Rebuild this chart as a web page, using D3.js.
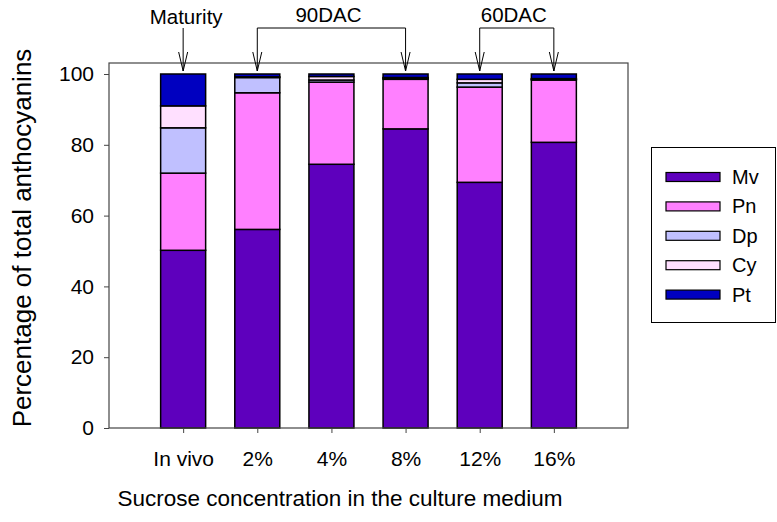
<!DOCTYPE html>
<html>
<head>
<meta charset="utf-8">
<script src="https://cdn.jsdelivr.net/npm/d3@7/dist/d3.min.js"></script>
<style>
  html, body { margin: 0; padding: 0; background: #fff; }
  svg { display: block; font-family: "Liberation Sans", Arial, sans-serif; }
</style>
</head>
<body>
<svg id="chart" width="777" height="522"></svg>
<script>
// Anthocyanin composition (% of total) by sucrose level in the culture medium
const categories = ["In vivo", "2%", "4%", "8%", "12%", "16%"];
const pigments   = ["Mv", "Pn", "Dp", "Cy", "Pt"];
const Mv = [50.2, 56.1, 74.5, 84.5, 69.4, 80.7];
const Pn = [21.8, 38.6, 23.2, 14.0, 26.9, 17.6];
const Dp = [12.8,  4.3,  0.6,  0.3,  1.2,  0.2];
const Cy = [ 6.2,  0.2,  1.0,  0.2,  1.0,  0.2];
const Pt = [ 9.0,  0.8,  0.7,  1.0,  1.5,  1.3];
const yTicks = [0, 20, 40, 60, 80, 100];
const colors = ["#5e00bd", "#ff80ff", "#c0c0ff", "#ffe0ff", "#0000c0"];

// Annotations: label and the categories each arrow points at
const notes = [
  { label: "Maturity", targets: ["In vivo"] },
  { label: "90DAC",    targets: ["2%", "8%"] },
  { label: "60DAC",    targets: ["12%", "16%"] }
];

const table = categories.map((c, i) => ({
  cat: c, Mv: Mv[i], Pn: Pn[i], Dp: Dp[i], Cy: Cy[i], Pt: Pt[i]
}));

const svg = d3.select("#chart");
const plotL = 109, plotR = 628, plotT = 63, plotB = 428;

const x = d3.scalePoint().domain(categories).range([plotL, plotR]).padding(1);
const y = d3.scaleLinear().domain([0, 100]).range([plotB, 74]);
const color = d3.scaleOrdinal().domain(pigments).range(colors);
const barW = 45;

const stacked = d3.stack().keys(pigments)(table);

// stacked bars
svg.append("g").selectAll("g")
  .data(stacked).join("g")
  .attr("fill", d => color(d.key))
  .selectAll("rect")
  .data(d => d).join("rect")
  .attr("x", d => x(d.data.cat) - barW / 2)
  .attr("y", d => y(d[1]))
  .attr("width", barW)
  .attr("height", d => y(d[0]) - y(d[1]))
  .attr("stroke", "#000")
  .attr("stroke-width", 1.5);

// plot frame
svg.append("rect")
  .attr("x", plotL).attr("y", plotT)
  .attr("width", plotR - plotL).attr("height", plotB - plotT)
  .attr("fill", "none").attr("stroke", "#444").attr("stroke-width", 1.2);

// y axis
const yAxis = svg.append("g")
  .attr("transform", `translate(${plotL},0)`)
  .call(d3.axisLeft(y).tickValues(yTicks).tickSize(5).tickPadding(10));
yAxis.select(".domain").remove();
yAxis.selectAll("line").attr("stroke", "#444");
yAxis.selectAll("text").attr("font-size", 21).attr("fill", "#000")
  .attr("font-family", "Liberation Sans, Arial, sans-serif");

// x axis
const xAxis = svg.append("g")
  .attr("transform", `translate(0,${plotB})`)
  .call(d3.axisBottom(x).tickSize(5).tickPadding(18));
xAxis.select(".domain").remove();
xAxis.selectAll("line").attr("stroke", "#444");
xAxis.selectAll("text").attr("font-size", 21).attr("fill", "#000")
  .attr("font-family", "Liberation Sans, Arial, sans-serif");

// axis titles
svg.append("text")
  .attr("x", 340).attr("y", 506)
  .attr("text-anchor", "middle").attr("font-size", 22.5)
  .text("Sucrose concentration in the culture medium");
svg.append("text")
  .attr("transform", `translate(31,238) rotate(-90)`)
  .attr("text-anchor", "middle").attr("font-size", 26)
  .text("Percentage of total anthocyanins");

// annotation arrows
const lineY = 28, tipY = 71, headLen = 19, headHalf = 4.5;
const ann = svg.append("g").attr("stroke", "#000").attr("stroke-width", 1).attr("fill", "none");
notes.forEach(n => {
  const xs = n.targets.map(t => x(t));
  if (xs.length > 1) {
    ann.append("line").attr("x1", xs[0]).attr("x2", xs[xs.length - 1])
      .attr("y1", lineY).attr("y2", lineY);
  }
  xs.forEach(px => {
    ann.append("line").attr("x1", px).attr("x2", px).attr("y1", lineY).attr("y2", tipY);
    ann.append("path")
      .attr("d", `M${px - headHalf},${tipY - headLen}L${px},${tipY}L${px + headHalf},${tipY - headLen}`);
  });
  const cx = d3.mean(xs);
  svg.append("text")
    .attr("x", xs.length > 1 ? cx - 3 : cx + 3)
    .attr("y", xs.length > 1 ? 22 : 24)
    .attr("text-anchor", "middle").attr("font-size", 20.5)
    .text(n.label);
});

// legend
const lg = svg.append("g");
lg.append("rect").attr("x", 651.5).attr("y", 147.5).attr("width", 124).attr("height", 175)
  .attr("fill", "#fff").attr("stroke", "#000").attr("stroke-width", 1);
const items = lg.selectAll("g.item").data(pigments).join("g")
  .attr("transform", (d, i) => `translate(666,${177 + i * 29.4})`);
items.append("rect").attr("x", 0).attr("y", -4.5).attr("width", 54).attr("height", 9)
  .attr("fill", d => color(d)).attr("stroke", "#000").attr("stroke-width", 1.2);
items.append("text").attr("x", 66).attr("y", 7).attr("font-size", 20).text(d => d);
</script>
</body>
</html>
